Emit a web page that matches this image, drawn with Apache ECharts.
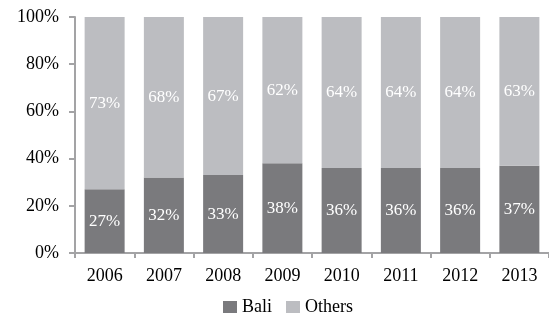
<!DOCTYPE html>
<html>
<head>
<meta charset="utf-8">
<script src="https://cdn.jsdelivr.net/npm/echarts@6/dist/echarts.min.js"></script>
<style>
  html, body { margin: 0; padding: 0; background: #fff; }
  #chart { width: 549px; height: 318px; }
</style>
</head>
<body>
<div id="chart"></div>
<script>
var years = ['2006', '2007', '2008', '2009', '2010', '2011', '2012', '2013'];
var bali = [27, 32, 33, 38, 36, 36, 36, 37];
var others = [73, 68, 67, 62, 64, 64, 64, 63];
var yTicks = [0, 20, 40, 60, 80, 100];

var serif = '"Liberation Serif", "DejaVu Serif", serif';
var axisColor = '#a3a3a5';

var chart = echarts.init(document.getElementById('chart'));

// label inside each segment, white serif
function segLabel() {
    return {
        show: true,
        position: 'inside',
        color: '#fff',
        fontFamily: serif,
        fontSize: 17,
        formatter: '{c}%'
    };
}

var option = {
    animation: false,
    grid: {
        left: 75,
        top: 17,
        width: 480,
        height: 236,
        containLabel: false
    },
    legend: {
        data: ['Bali', 'Others'],
        left: 218,
        top: 293,
        itemWidth: 14,
        itemHeight: 12,
        itemGap: 14,
        icon: 'rect',
        textStyle: {
            fontFamily: serif,
            fontSize: 18,
            color: '#000'
        }
    },
    xAxis: {
        type: 'category',
        data: years,
        axisLine: { lineStyle: { color: axisColor, width: 2 } },
        axisTick: { show: true, length: 5, lineStyle: { color: axisColor, width: 2 } },
        axisLabel: {
            fontFamily: serif,
            fontSize: 18,
            color: '#000',
            margin: 14
        }
    },
    yAxis: {
        type: 'value',
        min: yTicks[0],
        max: yTicks[yTicks.length - 1],
        interval: 20,
        axisLine: { show: true, lineStyle: { color: axisColor, width: 2 } },
        axisTick: { show: true, length: 6, lineStyle: { color: axisColor, width: 2 } },
        splitLine: { show: false },
        axisLabel: {
            fontFamily: serif,
            fontSize: 18,
            color: '#000',
            margin: 16,
            formatter: '{value}%'
        }
    },
    series: [{
        name: 'Bali',
        type: 'bar',
        stack: 'share',
        barWidth: 40,
        itemStyle: { color: '#7a7a7d' },
        label: segLabel(),
        data: bali
    }, {
        name: 'Others',
        type: 'bar',
        stack: 'share',
        barWidth: 40,
        itemStyle: { color: '#bcbdc1' },
        label: segLabel(),
        data: others
    }]
};

chart.setOption(option);
</script>
</body>
</html>
